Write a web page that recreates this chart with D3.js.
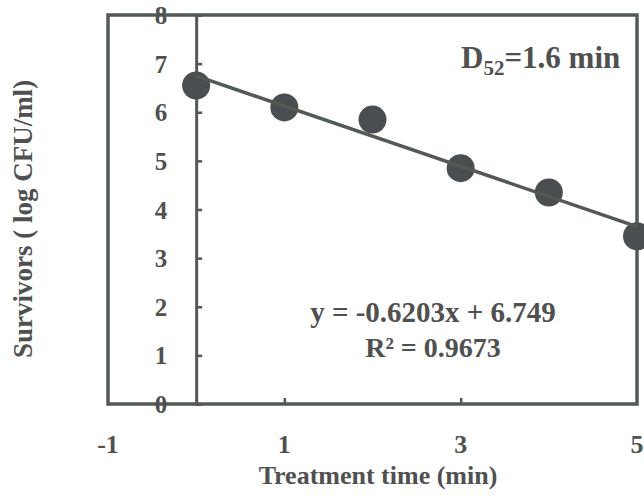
<!DOCTYPE html>
<html>
<head>
<meta charset="utf-8">
<script src="https://cdn.jsdelivr.net/npm/d3@7"></script>
<style>
  html, body { margin: 0; padding: 0; background: #fff; }
  svg { display: block; }
  text { font-family: "Liberation Serif", "Times New Roman", serif; font-weight: bold; fill: #505050; }
</style>
</head>
<body>
<svg id="chart" width="644" height="502"></svg>
<script>
// ---- data ----
const times = [0, 1, 2, 3, 4, 5];
const survivors = [6.55, 6.1, 5.85, 4.85, 4.35, 3.45];
const xTickValues = [-1, 1, 3, 5];
const yTickValues = [0, 1, 2, 3, 4, 5, 6, 7, 8];
const xDomain = [-1, 5];
const yDomain = [0, 8];
const trendSlope = -0.6203;
const trendIntercept = 6.749;
const trendRange = [0, 5];
const equationLabel = "y = -0.6203x + 6.749";
const r2Label = "R² = 0.9673";
const xTitle = "Treatment time (min)";
const yTitle = "Survivors ( log CFU/ml)";

// ---- layout ----
const svg = d3.select("#chart");
const pL = 108, pR = 637, pT = 15, pB = 404;
const x = d3.scaleLinear().domain(xDomain).range([pL, pR]);
const y = d3.scaleLinear().domain(yDomain).range([pB, pT]);
const lineColor = "#525a53";
const markColor = "#4a4e50";

// plot frame
svg.append("rect")
  .attr("x", pL).attr("y", pT)
  .attr("width", pR - pL).attr("height", pB - pT)
  .attr("fill", "none").attr("stroke", lineColor).attr("stroke-width", 3.5);

// y axis at x = 0
const yAxis = d3.axisRight(y).tickValues(yTickValues).tickSize(6).tickFormat("");
const yg = svg.append("g").attr("transform", `translate(${x(0)},0)`).call(yAxis);
yg.select(".domain").attr("stroke", lineColor).attr("stroke-width", 3);
yg.selectAll(".tick line").attr("stroke", lineColor).attr("stroke-width", 2.5);

// y tick labels (left of the axis)
svg.append("g").selectAll("text").data(yTickValues).join("text")
  .attr("x", x(0) - 29).attr("y", d => y(d))
  .attr("dy", "0.36em")
  .attr("text-anchor", "end")
  .attr("font-size", 25)
  .text(d => d);

// x axis (bottom)
const xAxis = d3.axisTop(x).tickValues([1, 3]).tickSize(6).tickFormat("");
const xg = svg.append("g").attr("transform", `translate(0,${pB})`).call(xAxis);
xg.select(".domain").remove();
xg.selectAll(".tick line").attr("stroke", lineColor).attr("stroke-width", 2.5);

svg.append("g").selectAll("text").data(xTickValues).join("text")
  .attr("x", d => x(d)).attr("y", pB + 49)
  .attr("text-anchor", "middle")
  .attr("font-size", 26)
  .text(d => d);

// markers
svg.append("g").selectAll("circle").data(times).join("circle")
  .attr("cx", (d) => x(d))
  .attr("cy", (d, i) => y(survivors[i]))
  .attr("r", 14)
  .attr("fill", markColor);

// trendline
const trend = trendRange.map(t => [t, trendSlope * t + trendIntercept]);
svg.append("path")
  .datum(trend)
  .attr("d", d3.line().x(d => x(d[0])).y(d => y(d[1])))
  .attr("fill", "none").attr("stroke", lineColor).attr("stroke-width", 3.5);

// annotations
const d52 = svg.append("text").attr("x", 461).attr("y", 68).attr("font-size", 31);
d52.append("tspan").text("D");
d52.append("tspan").attr("font-size", 21).attr("dy", 7).text("52");
d52.append("tspan").attr("dy", -7).text("=1.6 min");

svg.append("text").attr("x", 433).attr("y", 322).attr("text-anchor", "middle")
  .attr("font-size", 29).text(equationLabel);
svg.append("text").attr("x", 433).attr("y", 357).attr("text-anchor", "middle")
  .attr("font-size", 28).text(r2Label);

// axis titles
svg.append("text").attr("x", 378).attr("y", 484)
  .attr("text-anchor", "middle").attr("font-size", 26).text(xTitle);
svg.append("text")
  .attr("transform", `translate(32,219) rotate(-90)`)
  .attr("text-anchor", "middle").attr("font-size", 27).text(yTitle);
</script>
</body>
</html>
